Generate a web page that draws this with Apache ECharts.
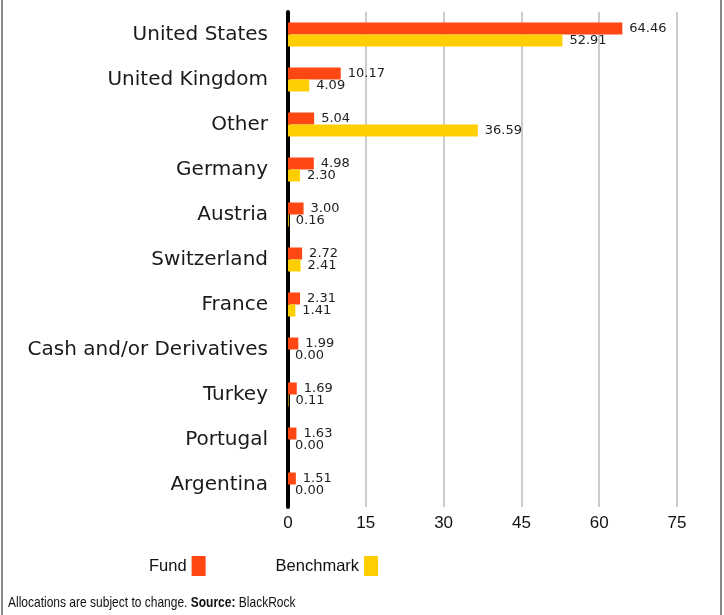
<!DOCTYPE html>
<html><head><meta charset="utf-8">
<script src="https://cdn.jsdelivr.net/npm/echarts@6/dist/echarts.min.js"></script>
<style>html,body{margin:0;padding:0;background:#fff}#c{width:724px;height:615px}</style>
</head><body><div id="c"></div>
<script>
const categories = ["United States","United Kingdom","Other","Germany","Austria","Switzerland","France","Cash and/or Derivatives","Turkey","Portugal","Argentina"];
const fund = [64.46,10.17,5.04,4.98,3.00,2.72,2.31,1.99,1.69,1.63,1.51];
const benchmark = [52.91,4.09,36.59,2.30,0.16,2.41,1.41,0.00,0.11,0.00,0.00];
const xTicks = [0,15,30,45,60,75];
const seriesNames = ["Fund","Benchmark"];
const colors = ["#ff4713","#ffce00"];
const WIDE = "'DejaVu Sans', sans-serif";
const NARROW = "'Liberation Sans', Arial, sans-serif";

const chart = echarts.init(document.getElementById('c'));
chart.setOption({
  animation:false,
  textStyle:{fontFamily:WIDE},
  grid:{left:288,right:47,top:12,bottom:108,containLabel:false},
  xAxis:{type:'value',min:xTicks[0],max:xTicks[xTicks.length-1],interval:15,
    axisLine:{show:false},axisTick:{show:false},
    axisLabel:{color:'#111',fontSize:17,margin:8,fontFamily:NARROW},
    splitLine:{show:true,lineStyle:{color:'#cccccc',width:2}}},
  yAxis:{type:'category',data:categories,inverse:true,
    axisLine:{show:true,lineStyle:{color:'#000',width:4}},
    axisTick:{show:false},
    axisLabel:{color:'#1a1a1a',fontSize:20,margin:20,fontFamily:WIDE}},
  legend:{data:seriesNames,left:144,top:551,align:'right',icon:'rect',
    itemWidth:14,itemHeight:20,itemGap:70,
    textStyle:{fontSize:16.5,color:'#111',fontFamily:NARROW}},
  graphic:[
    {type:'rect',left:1,top:0,shape:{width:2,height:615},style:{fill:'#888'}},
    {type:'rect',left:720,top:0,shape:{width:2,height:615},style:{fill:'#888'}},
    {type:'text',x:8,y:595,scaleX:0.8,style:{
      text:'Allocations are subject to change. {b|Source:} BlackRock',
      fontSize:15,fill:'#111',fontFamily:NARROW,
      rich:{b:{fontWeight:'bold',fontSize:15,fill:'#111',fontFamily:NARROW}}}}
  ],
  series:[
    {name:seriesNames[0],type:'bar',data:fund,barWidth:12,barGap:'0%',
      itemStyle:{color:colors[0]},
      label:{show:true,position:'right',distance:7,fontSize:13,color:'#222',fontFamily:WIDE,
        formatter:p=>p.value.toFixed(2)}},
    {name:seriesNames[1],type:'bar',data:benchmark,barWidth:12,barGap:'0%',
      itemStyle:{color:colors[1]},
      label:{show:true,position:'right',distance:7,fontSize:13,color:'#222',fontFamily:WIDE,
        formatter:p=>p.value.toFixed(2)}}
  ]
});
</script></body></html>
